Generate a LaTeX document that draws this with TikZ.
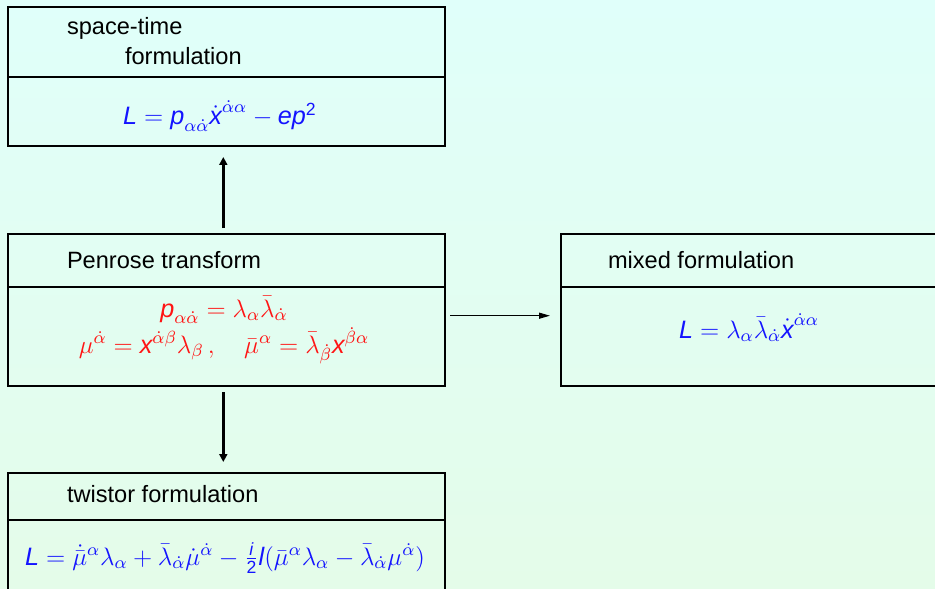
\RequirePackage{fix-cm}
\documentclass[tikz,border=0pt]{standalone}
\usepackage{amsmath}
\usepackage{fontspec}
\setmainfont{Liberation Sans}
\usetikzlibrary{arrows.meta}
\definecolor{bgtop}{RGB}{224,255,250}
\definecolor{bgbot}{RGB}{228,252,233}
\definecolor{eqblue}{RGB}{20,20,255}
\definecolor{eqred}{RGB}{255,20,20}
\newcommand{\sv}[1]{\text{\itshape #1}}
\begin{document}
\begin{tikzpicture}[x=0.5pt,y=-0.5pt,
  every node/.style={font=\fontsize{11.8}{14}\selectfont, inner sep=0pt, outer sep=0pt},
  frame/.style={draw=black, line width=1pt, rectangle, anchor=north west, minimum width=218.5pt},
  label/.style={anchor=base west, text=black},
  eqb/.style={anchor=base, text=eqblue, font=\fontsize{12.6}{15}\selectfont},
  eqr/.style={anchor=base, text=eqred, font=\fontsize{12.6}{15}\selectfont},
  bigarrow/.style={line width=1.5pt, -{Triangle[length=4pt,width=4pt]}},
  thinarrow/.style={line width=0.65pt, -{Triangle[length=5.5pt,width=3pt]}}]
\clip (0,0) rectangle (935,588);
\fill[top color=bgtop, bottom color=bgbot] (0,0) rectangle (935,588);

% space-time box
\node[frame, minimum height=35pt] (sth) at (8,7) {};
\node[frame, minimum height=34.5pt] (stb) at (8,77) {};
\node[label, align=left] (stt) at (67,65) {space-time\\[1pt]\hspace*{29pt}formulation};
\node[eqb] (ste) at (220,125) {$\sv{L} = \sv{p}_{\alpha\dot\alpha}\dot{\sv{x}}^{\dot\alpha\alpha} - \sv{ep}^{\text{2}}$};

% Penrose box
\node[frame, minimum height=26.5pt] (pth) at (8,234) {};
\node[frame, minimum height=49.5pt] (ptb) at (8,287) {};
\node[label] (ptt) at (67,268) {Penrose transform};
\node[eqr] (pte1) at (224,317) {$\sv{p}_{\alpha\dot\alpha} = \lambda_\alpha\bar\lambda_{\dot\alpha}$};
\node[eqr] (pte2) at (224,353) {$\mu^{\dot\alpha} = \sv{x}^{\dot\alpha\beta}\lambda_\beta\,,\quad \bar\mu^{\alpha} = \bar\lambda_{\dot\beta}\sv{x}^{\dot\beta\alpha}$};

% mixed box
\node[frame, minimum height=26.5pt] (mxh) at (561,234) {};
\node[frame, minimum height=49.5pt] (mxb) at (561,287) {};
\node[label] (mxt) at (608,268) {mixed formulation};
\node[eqb] (mxe) at (749,338) {$\sv{L} = \lambda_\alpha\bar\lambda_{\dot\alpha}\dot{\sv{x}}^{\dot\alpha\alpha}$};

% twistor box
\node[frame, minimum height=23.5pt] (twh) at (8,473) {};
\node[frame, minimum height=50pt] (twb) at (8,520) {};
\node[label] (twt) at (67,502) {twistor formulation};
\node[eqb] (twe) at (225,565) {$\sv{L} = \dot{\bar\mu}^{\alpha}\lambda_\alpha + \bar\lambda_{\dot\alpha}\dot\mu^{\dot\alpha} - \tfrac{\sv{i}}{\text{2}}\sv{l}(\bar\mu^{\alpha}\lambda_\alpha - \bar\lambda_{\dot\alpha}\mu^{\dot\alpha})$};

% connectors
\draw[bigarrow] ([xshift=-1.6pt,yshift=3pt]pth.north) -- ([xshift=-1.6pt,yshift=-5.5pt]stb.south);
\draw[bigarrow] ([xshift=-1.6pt,yshift=-3pt]ptb.south) -- ([xshift=-1.6pt,yshift=5.5pt]twh.north);
\draw[thinarrow] ([xshift=2.5pt,yshift=10.4pt]ptb.east) -- ([xshift=-5.5pt,yshift=10.4pt]mxb.west);
\end{tikzpicture}
\end{document}
